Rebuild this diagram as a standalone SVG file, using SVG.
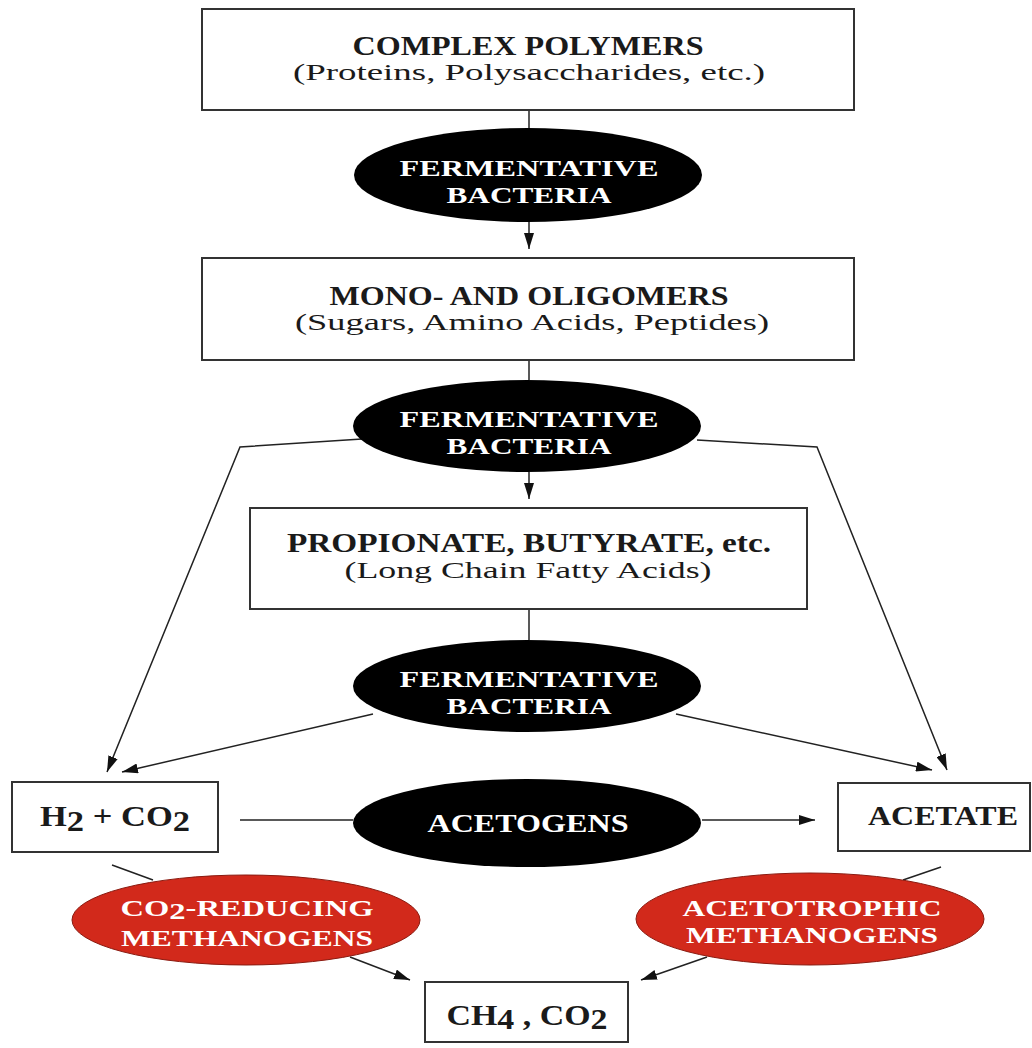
<svg xmlns="http://www.w3.org/2000/svg" width="1032" height="1048" viewBox="0 0 1032 1048">
<style>
.box{fill:#fff;stroke:#333;stroke-width:2}
.blk{fill:#000}
.red{fill:#d2291b;stroke:#8a1a10;stroke-width:1}
.t{font-family:"Liberation Serif","DejaVu Serif",serif;font-weight:bold;fill:#1a1a1a;text-anchor:middle}
.s{font-family:"Liberation Serif","DejaVu Serif",serif;fill:#1a1a1a;text-anchor:middle}
.w{font-family:"Liberation Serif","DejaVu Serif",serif;font-weight:bold;fill:#fff;text-anchor:middle;font-size:23px}
.ln{fill:none;stroke:#222;stroke-width:1.5}
</style>
<defs>
<marker id="ah" markerUnits="userSpaceOnUse" markerWidth="16" markerHeight="10" refX="16" refY="5" orient="auto" viewBox="0 0 16 10">
<path d="M0,0 L16,5 L0,10 z" fill="#111"/>
</marker>
</defs>
<rect width="1032" height="1048" fill="#fff"/>
<g id="connectors">
<line class="ln" x1="529" y1="110" x2="529" y2="128"/>
<line class="ln" x1="529" y1="222" x2="529" y2="249" marker-end="url(#ah)"/>
<line class="ln" x1="529" y1="360" x2="529" y2="380"/>
<line class="ln" x1="529" y1="472" x2="529" y2="499" marker-end="url(#ah)"/>
<polyline class="ln" points="362,439 240,447 107,772" marker-end="url(#ah)"/>
<polyline class="ln" points="697,440 817,447 947,770" marker-end="url(#ah)"/>
<line class="ln" x1="529" y1="609" x2="529" y2="640"/>
<line class="ln" x1="373" y1="714" x2="122" y2="772" marker-end="url(#ah)"/>
<line class="ln" x1="676" y1="714" x2="932" y2="770" marker-end="url(#ah)"/>
<line class="ln" x1="240" y1="820" x2="353" y2="820"/>
<line class="ln" x1="702" y1="820" x2="815" y2="820" marker-end="url(#ah)"/>
<line class="ln" x1="112" y1="865" x2="153" y2="880"/>
<line class="ln" x1="350" y1="957" x2="410" y2="980" marker-end="url(#ah)"/>
<line class="ln" x1="941" y1="867" x2="903" y2="880"/>
<line class="ln" x1="707" y1="957" x2="641" y2="980" marker-end="url(#ah)"/>
</g>
<g id="complex-polymers">
<rect class="box" x="202" y="9" width="652" height="101"/>
<text class="t" x="528" y="55" font-size="27" textLength="351" lengthAdjust="spacingAndGlyphs">COMPLEX POLYMERS</text>
<text class="s" x="529" y="80" font-size="24" textLength="472" lengthAdjust="spacingAndGlyphs">(Proteins, Polysaccharides, etc.)</text>
</g>
<g id="fermentative-1">
<ellipse class="blk" cx="528" cy="175" rx="174" ry="47"/>
<text class="w" x="529" y="176" textLength="259" lengthAdjust="spacingAndGlyphs">FERMENTATIVE</text>
<text class="w" x="529" y="203" textLength="165" lengthAdjust="spacingAndGlyphs">BACTERIA</text>
</g>
<g id="mono-oligomers">
<rect class="box" x="202" y="258" width="652" height="102"/>
<text class="t" x="529" y="305" font-size="27" textLength="399" lengthAdjust="spacingAndGlyphs">MONO- AND OLIGOMERS</text>
<text class="s" x="532" y="330" font-size="24" textLength="474" lengthAdjust="spacingAndGlyphs">(Sugars, Amino Acids, Peptides)</text>
</g>
<g id="fermentative-2">
<ellipse class="blk" cx="527" cy="426" rx="174" ry="46"/>
<text class="w" x="529" y="427" textLength="259" lengthAdjust="spacingAndGlyphs">FERMENTATIVE</text>
<text class="w" x="529" y="454" textLength="165" lengthAdjust="spacingAndGlyphs">BACTERIA</text>
</g>
<g id="propionate">
<rect class="box" x="250" y="508" width="557" height="101"/>
<text class="t" x="529" y="552" font-size="27" textLength="484" lengthAdjust="spacingAndGlyphs">PROPIONATE, BUTYRATE, etc.</text>
<text class="s" x="528" y="578" font-size="24" textLength="367" lengthAdjust="spacingAndGlyphs">(Long Chain Fatty Acids)</text>
</g>
<g id="fermentative-3">
<ellipse class="blk" cx="527" cy="686" rx="174" ry="46"/>
<text class="w" x="529" y="687" textLength="259" lengthAdjust="spacingAndGlyphs">FERMENTATIVE</text>
<text class="w" x="529" y="714" textLength="165" lengthAdjust="spacingAndGlyphs">BACTERIA</text>
</g>
<g id="h2-co2">
<rect class="box" x="12" y="782" width="206" height="70"/>
<text class="t" x="115" y="826" font-size="29" textLength="150" lengthAdjust="spacingAndGlyphs">H<tspan dy="5">2</tspan><tspan dy="-5"> + CO</tspan><tspan dy="5">2</tspan></text>
</g>
<g id="acetogens">
<ellipse class="blk" cx="527" cy="823" rx="174" ry="44"/>
<text class="w" x="528" y="832" style="font-size:26px" textLength="201" lengthAdjust="spacingAndGlyphs">ACETOGENS</text>
</g>
<g id="acetate">
<rect class="box" x="838" y="783" width="192" height="68"/>
<text class="t" x="943" y="825" font-size="27" textLength="150" lengthAdjust="spacingAndGlyphs">ACETATE</text>
</g>
<g id="co2-reducing">
<ellipse class="red" cx="246" cy="920" rx="174" ry="45"/>
<text class="w" x="247" y="916" textLength="253" lengthAdjust="spacingAndGlyphs">CO<tspan dy="3">2</tspan><tspan dy="-3">-REDUCING</tspan></text>
<text class="w" x="247" y="946" textLength="252" lengthAdjust="spacingAndGlyphs">METHANOGENS</text>
</g>
<g id="acetotrophic">
<ellipse class="red" cx="810" cy="919" rx="174" ry="46"/>
<text class="w" x="812" y="916" textLength="259" lengthAdjust="spacingAndGlyphs">ACETOTROPHIC</text>
<text class="w" x="812" y="943" textLength="252" lengthAdjust="spacingAndGlyphs">METHANOGENS</text>
</g>
<g id="ch4-co2">
<rect class="box" x="425" y="982" width="203" height="60"/>
<text class="t" x="527" y="1025" font-size="29" textLength="161" lengthAdjust="spacingAndGlyphs">CH<tspan dy="4">4</tspan><tspan dy="-4"> , CO</tspan><tspan dy="4">2</tspan></text>
</g>
</svg>
